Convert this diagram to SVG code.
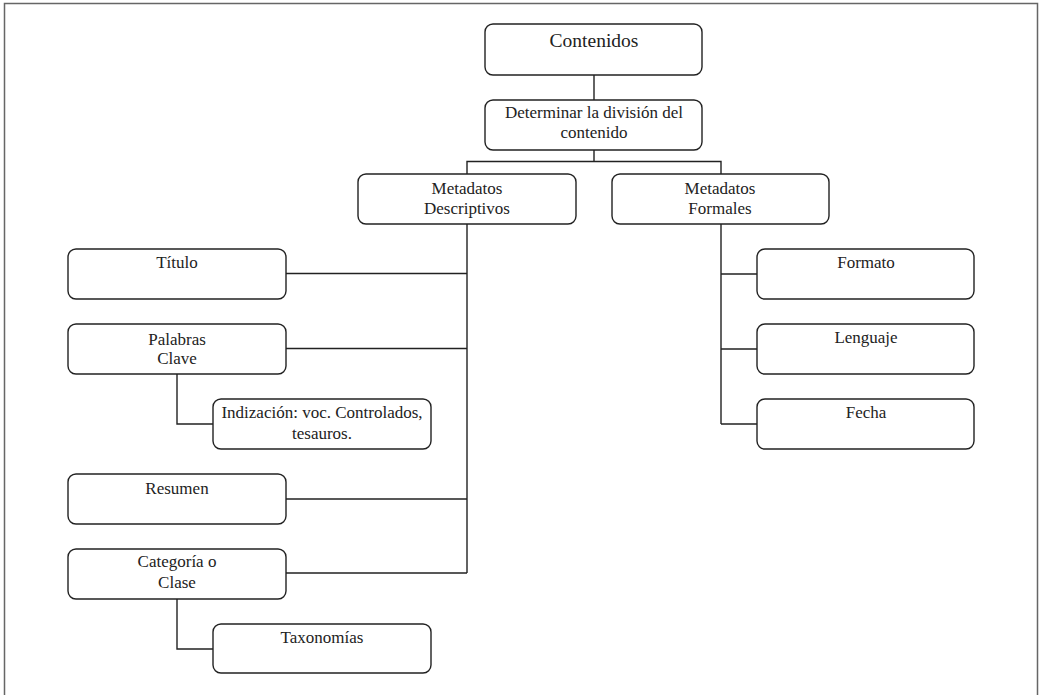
<svg xmlns="http://www.w3.org/2000/svg" width="1040" height="695" viewBox="0 0 1040 695">
<style>
.box{fill:#fff;stroke:#222;stroke-width:1.4}
.t{font-family:'Liberation Serif','Times New Roman',Times,'DejaVu Serif',serif;font-size:17px;fill:#222;text-anchor:middle}
.big{font-size:19.5px}
.c{fill:none;stroke:#222;stroke-width:1.4}
</style>
<rect x="0" y="0" width="1040" height="695" fill="#fff"/>
<path d="M4.5,700 V3.5 H1037.5 V700" fill="none" stroke="#666" stroke-width="1.5"/>
<g id="connectors">
<path class="c" d="M594,75 V100"/>
<path class="c" d="M594,150 V161.5 M467,174 V161.5 H721 V174"/>
<path class="c" d="M467,224 V573 M286,273.5 H467 M286,348.5 H467 M286,499 H467 M286,573 H467"/>
<path class="c" d="M177,374 V424 H213"/>
<path class="c" d="M177,599 V649 H213"/>
<path class="c" d="M721,224 V424 M721,274 H757 M721,349 H757 M721,424 H757"/>
</g>
<g id="contenidos"><rect class="box" x="485" y="24" width="217" height="51" rx="8"/><text class="t big" x="594" y="47" font-family="Liberation Serif, serif">Contenidos</text></g>
<g id="determinar"><rect class="box" x="485" y="100" width="217" height="50" rx="8"/><text class="t" x="594" y="118">Determinar la división del</text><text class="t" x="594" y="138">contenido</text></g>
<g id="descriptivos"><rect class="box" x="358" y="174" width="218" height="50" rx="8"/><text class="t" x="467" y="194">Metadatos</text><text class="t" x="467" y="214">Descriptivos</text></g>
<g id="formales"><rect class="box" x="612" y="174" width="217" height="50" rx="8"/><text class="t" x="720" y="194">Metadatos</text><text class="t" x="720" y="214">Formales</text></g>
<g id="titulo"><rect class="box" x="68" y="249" width="218" height="50" rx="8"/><text class="t" x="177" y="268">Título</text></g>
<g id="palabras"><rect class="box" x="68" y="324" width="218" height="50" rx="8"/><text class="t" x="177" y="345">Palabras</text><text class="t" x="177" y="364">Clave</text></g>
<g id="indizacion"><rect class="box" x="213" y="399" width="218" height="50" rx="8"/><text class="t" x="322" y="418">Indización: voc. Controlados,</text><text class="t" x="322" y="439">tesauros.</text></g>
<g id="resumen"><rect class="box" x="68" y="474" width="218" height="50" rx="8"/><text class="t" x="177" y="494">Resumen</text></g>
<g id="categoria"><rect class="box" x="68" y="549" width="218" height="50" rx="8"/><text class="t" x="177" y="567">Categoría o</text><text class="t" x="177" y="588">Clase</text></g>
<g id="taxonomias"><rect class="box" x="213" y="624" width="218" height="49" rx="8"/><text class="t" x="322" y="643">Taxonomías</text></g>
<g id="formato"><rect class="box" x="757" y="249" width="217" height="50" rx="8"/><text class="t" x="866" y="268">Formato</text></g>
<g id="lenguaje"><rect class="box" x="757" y="324" width="217" height="50" rx="8"/><text class="t" x="866" y="343">Lenguaje</text></g>
<g id="fecha"><rect class="box" x="757" y="399" width="217" height="50" rx="8"/><text class="t" x="866" y="418">Fecha</text></g>
</svg>
